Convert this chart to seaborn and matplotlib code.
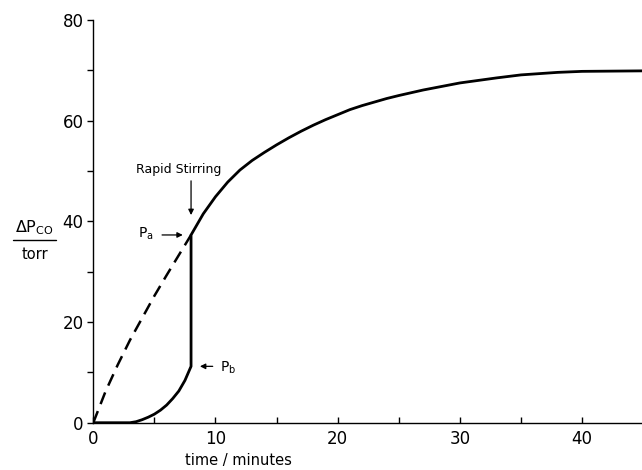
import matplotlib
matplotlib.use("Agg")
import matplotlib.pyplot as plt
from matplotlib.lines import Line2D
from matplotlib.ticker import MultipleLocator
import seaborn as sns
import pandas as pd

# dashed curve (extrapolated, no stirring)
t_dash = [0, 1, 2, 3, 4, 5, 6, 7, 8]
p_dash = [0, 6.2, 11.5, 16.4, 20.8, 25.2, 29.3, 33.3, 37.3]

# solid curve: slow rise, then jump at rapid stirring, then saturation
t_solid = [0, 3.0, 3.5, 4, 4.5, 5, 5.5, 6, 6.5, 7, 7.5, 8, 8, 9, 10, 11, 12,
           13, 14, 15, 16, 17, 18, 19, 20, 21, 22, 23, 24, 25, 27, 30, 33,
           35, 38, 40, 45]
p_solid = [0, 0, 0.2, 0.6, 1.1, 1.7, 2.5, 3.5, 4.8, 6.3, 8.4, 11.2, 37.3,
           41.5, 44.9, 47.8, 50.2, 52.1, 53.7, 55.2, 56.6, 57.9, 59.1, 60.2,
           61.2, 62.2, 63.0, 63.7, 64.4, 65.0, 66.1, 67.5, 68.5, 69.1, 69.6,
           69.8, 69.9]

x_major = [0, 10, 20, 30, 40]
y_major = [0, 20, 40, 60, 80]

sns.set_style("ticks")
plt.rcParams['font.family'] = ['DejaVu Sans']
plt.rcParams['text.color'] = 'black'
plt.rcParams['axes.labelcolor'] = 'black'
plt.rcParams['xtick.color'] = 'black'
plt.rcParams['ytick.color'] = 'black'

fig = plt.figure(figsize=(6.42, 4.70), dpi=100)
ax = fig.add_axes([0.1453, 0.1006, 1.0 - 0.1453, 0.9574 - 0.1006])

df_d = pd.DataFrame({"t": t_dash, "p": p_dash})
df_s = pd.DataFrame({"t": t_solid, "p": p_solid})
sns.lineplot(data=df_d, x="t", y="p", ax=ax, color="black", lw=1.8,
             sort=False, estimator=None, linestyle=(0, (5, 3)))
sns.lineplot(data=df_s, x="t", y="p", ax=ax, color="black", lw=2.0,
             sort=False, estimator=None)

ax.set_xlim(0, 44.9)
ax.set_ylim(0, 80)
ax.set_xticks(x_major)
ax.set_yticks(y_major)
ax.xaxis.set_minor_locator(MultipleLocator(5))
ax.yaxis.set_minor_locator(MultipleLocator(10))
for s in ["top", "right"]:
    ax.spines[s].set_visible(False)
for s in ["left", "bottom"]:
    ax.spines[s].set_linewidth(1.0)
    ax.spines[s].set_color("black")
ax.tick_params(axis="y", which="both", direction="out", length=4, width=1,
               labelsize=12, pad=3, colors="black")
ax.tick_params(axis="x", which="both", direction="in", length=4, width=1,
               labelsize=12, pad=5, colors="black")
ax.set_xlabel("time / minutes", fontsize=10.5, color="black")
ax.xaxis.set_label_coords(0.264, -0.075)
ax.set_ylabel("")

# y label as fraction
fig.text(0.054, 0.515, r"$\Delta$P$_{\rm CO}$", fontsize=11.5, ha="center",
         va="center", color="black")
fig.add_artist(Line2D([0.020, 0.088], [0.489, 0.489], color="black", lw=1.0,
                      transform=fig.transFigure))
fig.text(0.054, 0.458, "torr", fontsize=10.5, ha="center", va="center",
         color="black")

# annotations
ax.annotate("", xy=(8, 40.7), xytext=(8, 48.6),
            arrowprops=dict(arrowstyle="-|>", color="black", lw=0.9,
                            mutation_scale=8))
ax.text(7.0, 50.4, "Rapid Stirring", fontsize=9, ha="center", va="center",
        color="black")
ax.annotate("", xy=(7.55, 37.3), xytext=(5.4, 37.3),
            arrowprops=dict(arrowstyle="-|>", color="black", lw=0.9,
                            mutation_scale=8))
ax.text(4.3, 37.6, r"P$_{\rm a}$", fontsize=10, ha="center", va="center",
        color="black")
ax.annotate("", xy=(8.5, 11.2), xytext=(10.0, 11.2),
            arrowprops=dict(arrowstyle="-|>", color="black", lw=0.9,
                            mutation_scale=8))
ax.text(11.0, 11.0, r"P$_{\rm b}$", fontsize=10, ha="center", va="center",
        color="black")

fig.savefig("out.png", dpi=100)
